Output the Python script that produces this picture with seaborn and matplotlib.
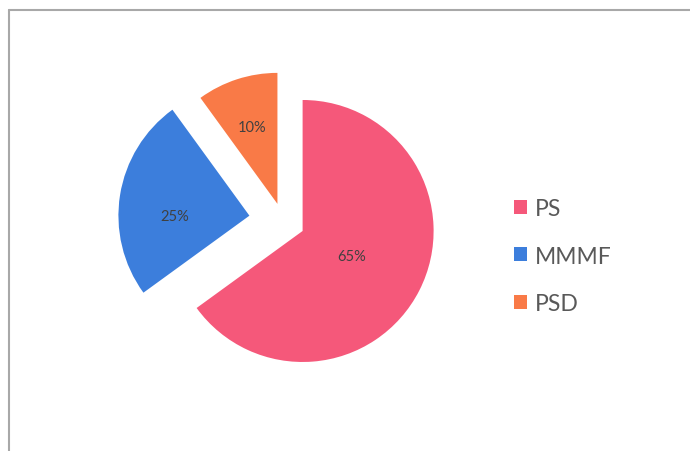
import numpy as np
import matplotlib
matplotlib.use("Agg")
import matplotlib.pyplot as plt
from matplotlib.patches import Patch
from matplotlib.lines import Line2D
import seaborn as sns

categories = ["PS", "MMMF", "PSD"]
shares = [65, 25, 10]
pct_labels = ["65%", "25%", "10%"]
colors = ["#F5587A", "#3C7EDC", "#F97A47"]
explode_px = [22, 34, 18]
label_dist = [0.42, 0.57, 0.62]
label_angle_shift = [0, 9, 0]

sns.set_theme(style="white")
plt.rcParams["font.family"] = ["Lato", "DejaVu Sans"]

W, H = 690, 452
fig = plt.figure(figsize=(W / 100, H / 100), dpi=100)
ax = fig.add_axes([0, 0, 1, 1])

R = 131
cx, cy = 283, H - 222
wedges, _ = ax.pie(shares, colors=colors, startangle=90, counterclock=False,
                   explode=explode_px, radius=R, center=(cx, cy),
                   wedgeprops=dict(linewidth=0, antialiased=True),
                   frame=True)
ax.set_xlim(0, W)
ax.set_ylim(0, H)
ax.axis("off")
ax.set_aspect("equal")

for w, lab, d, s in zip(wedges, pct_labels, label_dist, label_angle_shift):
    ang = np.deg2rad((w.theta1 + w.theta2) / 2 + s)
    x0, y0 = w.center
    ax.text(x0 + d * R * np.cos(ang), y0 + d * R * np.sin(ang), lab,
            ha="center", va="center", fontsize=10.5, color="#404040")

handles = [Patch(facecolor=c, edgecolor="none") for c in colors]
ax.legend(handles, categories, loc="center left",
          bbox_to_anchor=(505 / W, 1 - 257 / H), frameon=False,
          fontsize=16.5, labelcolor="#595959", handlelength=0.55,
          handleheight=0.55, handletextpad=0.35, labelspacing=1.15,
          borderaxespad=0)

# outer chart border (top and left visible)
fig.add_artist(Line2D([9 / W, 1], [1 - 11 / H, 1 - 11 / H], color="#A8A8A8",
                      lw=1.5, transform=fig.transFigure))
fig.add_artist(Line2D([9 / W, 9 / W], [0, 1 - 11 / H], color="#A8A8A8",
                      lw=1.5, transform=fig.transFigure))

fig.savefig("out.png", dpi=100, facecolor="white")
